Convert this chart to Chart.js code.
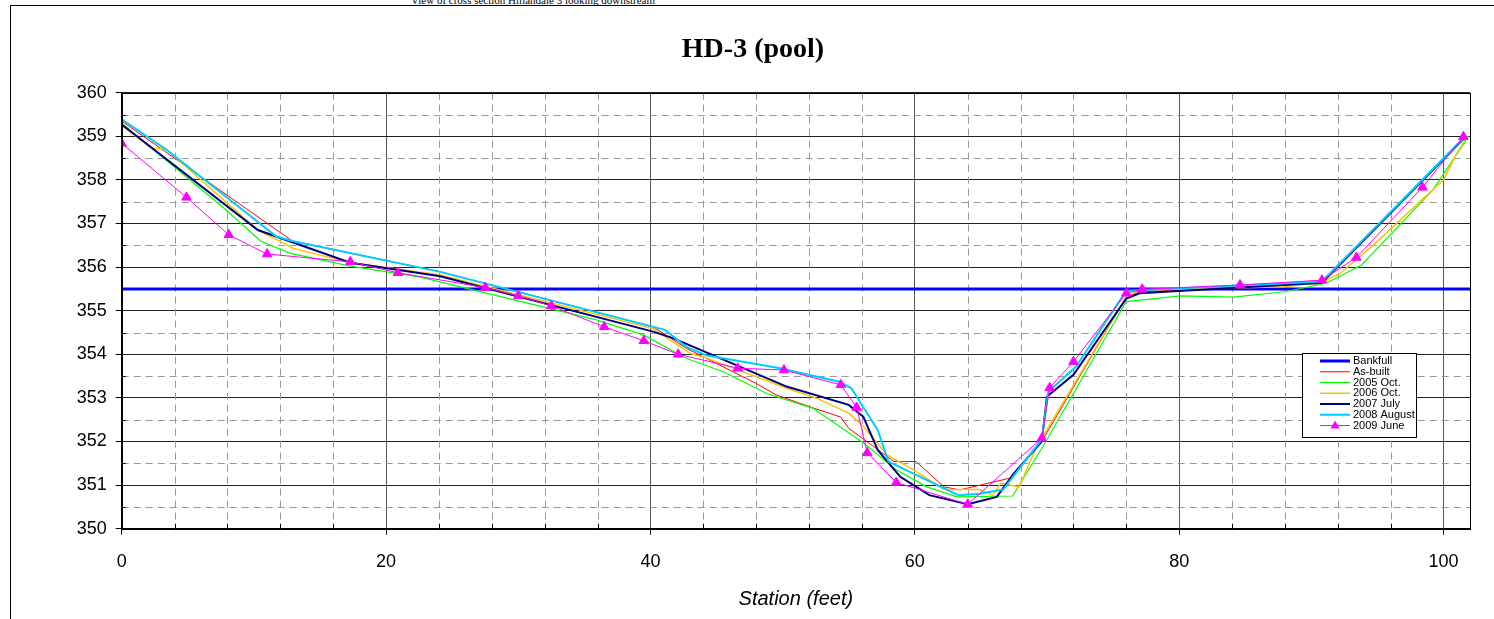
<!DOCTYPE html>
<html>
<head>
<meta charset="utf-8">
<script src="https://cdn.jsdelivr.net/npm/chart.js@4.4.0/dist/chart.umd.min.js"></script>
<style>
  html, body { margin: 0; padding: 0; background: #fff; overflow: hidden; }
  #wrap { position: relative; width: 1494px; height: 619px; overflow: hidden; }
  #frame { position: absolute; left: 10px; top: 5px; width: 1600px; height: 700px; border: 1px solid #000; }
  #caption { position: absolute; left: 411px; top: -6px; font: 11px "Liberation Serif", serif; white-space: nowrap; }
  canvas { position: absolute; left: 0; top: 0; }
</style>
</head>
<body>
<div id="wrap">
  <div id="frame"></div>
  <div id="caption">View of cross section Hillandale 3 looking downstream</div>
  <canvas id="xsChart" width="1494" height="619"></canvas>
</div>
<script>
// station (ft) / elevation (ft) for each survey
const bankfullX = [0, 102];
const bankfullY = [355.5, 355.5];

const asBuiltX = [0, 12.9, 24, 40.2, 42.7, 48.0, 49.5, 52.4, 54.4, 55.0, 57.4, 58.4, 60.1, 62.2, 63.4, 67.2, 69.6, 76.0, 77.0, 90.6, 101.7];
const asBuiltY = [359.35, 356.6, 355.9, 354.63, 354.14, 353.33, 353.07, 352.76, 352.56, 352.3, 351.77, 351.54, 351.54, 350.96, 350.89, 351.16, 352.0, 355.32, 355.43, 355.62, 359.0];

const oct05X = [0, 7.9, 10.5, 12.7, 17.2, 22.6, 35.9, 39.5, 42.7, 45.5, 48.8, 52.3, 56.2, 58.6, 60.9, 63.2, 67.4, 69.7, 76.0, 80.1, 84.1, 88.1, 91.1, 93.8, 99.2, 101.9];
const oct05Y = [359.3, 357.31, 356.6, 356.32, 356.03, 355.77, 354.79, 354.44, 353.91, 353.6, 353.1, 352.76, 351.95, 351.35, 350.96, 350.73, 350.75, 351.89, 355.21, 355.34, 355.31, 355.44, 355.63, 356.05, 357.77, 359.0];

const oct06X = [0, 2.3, 3.3, 10.3, 13.0, 17.0, 24.1, 40.2, 43.0, 44.0, 50.3, 52.6, 55.0, 56.1, 57.9, 59.9, 62.2, 64.9, 65.9, 66.5, 67.9, 69.2, 76.0, 77.0, 87.9, 90.8, 92.2, 94.7, 100.0, 101.0, 101.8];
const oct06Y = [359.25, 358.72, 358.72, 356.85, 356.43, 356.12, 355.82, 354.59, 354.02, 353.94, 353.22, 352.99, 352.65, 352.35, 351.69, 351.35, 350.9, 350.9, 350.77, 351.04, 350.96, 351.87, 355.32, 355.47, 355.55, 355.65, 355.86, 356.51, 358.0, 358.61, 359.0];

const jul07X = [0, 10.3, 17.3, 24.1, 40.2, 41.7, 50.3, 55.0, 56.1, 57.2, 58.9, 59.9, 61.1, 64.0, 66.2, 67.5, 69.6, 70.0, 72.0, 76.0, 77.0, 90.8, 101.7];
const jul07Y = [359.27, 356.85, 356.1, 355.79, 354.52, 354.37, 353.26, 352.84, 352.57, 351.8, 351.19, 351.0, 350.77, 350.56, 350.73, 351.27, 352.0, 353.03, 353.53, 355.28, 355.4, 355.64, 359.0];

const aug08X = [0, 3.4, 11.7, 12.9, 24.1, 41.1, 42.7, 44.2, 49.8, 54.3, 55.2, 57.2, 58.0, 63.3, 64.9, 66.7, 69.6, 70.1, 72.2, 76.0, 77.0, 90.8, 101.7];
const aug08Y = [359.39, 358.69, 356.7, 356.6, 355.89, 354.56, 354.17, 353.98, 353.68, 353.37, 353.22, 352.26, 351.54, 350.77, 350.8, 350.9, 352.05, 353.14, 353.72, 355.46, 355.47, 355.67, 359.02];

const jun09X = [0, 4.9, 8.1, 11.0, 17.3, 20.9, 27.5, 30.0, 32.5, 36.5, 39.5, 42.1, 46.6, 50.1, 54.4, 55.6, 56.4, 58.6, 64.0, 69.6, 70.2, 72.0, 76.0, 77.2, 84.6, 90.8, 93.4, 98.4, 101.5];
const jun09Y = [358.84, 357.6, 356.74, 356.3, 356.12, 355.87, 355.53, 355.34, 355.11, 354.63, 354.31, 354.0, 353.68, 353.64, 353.3, 352.78, 351.74, 351.06, 350.56, 352.07, 353.23, 353.83, 355.4, 355.49, 355.59, 355.7, 356.22, 357.83, 358.99];

const pts = (xs, ys) => xs.map((x, i) => ({ x: x, y: ys[i] }));

Chart.defaults.font.family = "'Liberation Sans', Arial, sans-serif";
Chart.defaults.color = "#000";

// dashed minor grid + little inside ticks, like the excel chart
const minorGrid = {
  id: "minorGrid",
  beforeDatasetsDraw(chart) {
    const { ctx, chartArea: a, scales: { x, y } } = chart;
    ctx.save();
    ctx.lineWidth = 1;
    ctx.strokeStyle = "#999";
    ctx.setLineDash([7, 5]);
    for (let v = 4; v < 102; v += 4) {
      if (v % 20 === 0) continue;
      const px = Math.round(x.getPixelForValue(v)) + 0.5;
      ctx.beginPath(); ctx.moveTo(px, a.top); ctx.lineTo(px, a.bottom); ctx.stroke();
    }
    for (let v = 350.5; v < 360; v += 1) {
      const py = Math.round(y.getPixelForValue(v)) + 0.5;
      ctx.beginPath(); ctx.moveTo(a.left, py); ctx.lineTo(a.right, py); ctx.stroke();
    }
    ctx.setLineDash([]);
    ctx.strokeStyle = "#000";
    for (let v = 4; v < 102; v += 4) {
      if (v % 20 === 0) continue;
      const px = Math.round(x.getPixelForValue(v)) + 0.5;
      ctx.beginPath(); ctx.moveTo(px, a.bottom); ctx.lineTo(px, a.bottom - 5); ctx.stroke();
    }
    for (let v = 350.5; v < 360; v += 1) {
      const py = Math.round(y.getPixelForValue(v)) + 0.5;
      ctx.beginPath(); ctx.moveTo(a.left, py); ctx.lineTo(a.left + 4, py); ctx.stroke();
    }
    ctx.restore();
  },
  afterDatasetsDraw(chart) {
    const { ctx, chartArea: a } = chart;
    ctx.save();
    ctx.strokeStyle = "#000";
    ctx.lineWidth = 1;
    ctx.strokeRect(Math.round(a.left) + 0.5, Math.round(a.top) + 0.5, Math.round(a.right - a.left), Math.round(a.bottom - a.top));
    ctx.restore();
  }
};

// boxed legend sitting inside the plot
const boxLegend = {
  id: "boxLegend",
  afterDraw(chart) {
    const { ctx, chartArea: a } = chart;
    const left = Math.round(a.right) - 168, top = Math.round(a.top) + 260;
    ctx.save();
    ctx.fillStyle = "#fff";
    ctx.fillRect(left, top, 114, 84);
    ctx.strokeStyle = "#000";
    ctx.lineWidth = 1;
    ctx.strokeRect(left + 0.5, top + 0.5, 114, 84);
    ctx.font = "11px 'Liberation Sans', Arial, sans-serif";
    ctx.textBaseline = "middle";
    chart.data.datasets.forEach((ds, i) => {
      const yy = top + 8 + i * 10.75;
      ctx.strokeStyle = ds.borderColor;
      ctx.lineWidth = ds.borderWidth;
      ctx.beginPath(); ctx.moveTo(left + 18, yy); ctx.lineTo(left + 48, yy); ctx.stroke();
      if (ds.pointStyle === "triangle") {
        ctx.fillStyle = ds.backgroundColor;
        ctx.beginPath();
        ctx.moveTo(left + 33, yy - 5);
        ctx.lineTo(left + 37.5, yy + 3);
        ctx.lineTo(left + 28.5, yy + 3);
        ctx.closePath();
        ctx.fill();
      }
      ctx.fillStyle = "#000";
      ctx.fillText(ds.label, left + 51, yy);
    });
    ctx.restore();
  }
};

const ctx = document.getElementById("xsChart").getContext("2d");

const data = {
  datasets: [
    { label: "Bankfull", data: pts(bankfullX, bankfullY), borderColor: "#0000FF", borderWidth: 3, pointRadius: 0, order: 6 },
    { label: "As-built", data: pts(asBuiltX, asBuiltY), borderColor: "#FF0000", borderWidth: 1, pointRadius: 0, order: 5 },
    { label: "2005 Oct.", data: pts(oct05X, oct05Y), borderColor: "#00FF00", borderWidth: 1.2, pointRadius: 0, order: 4 },
    { label: "2006 Oct.", data: pts(oct06X, oct06Y), borderColor: "#FFC000", borderWidth: 1.5, pointRadius: 0, order: 3 },
    { label: "2007 July", data: pts(jul07X, jul07Y), borderColor: "#000080", borderWidth: 2, pointRadius: 0, order: 2 },
    { label: "2008 August", data: pts(aug08X, aug08Y), borderColor: "#00CCFF", borderWidth: 2, pointRadius: 0, order: 1 },
    { label: "2009 June", data: pts(jun09X, jun09Y), borderColor: "#FF00FF", backgroundColor: "#FF00FF", borderWidth: 1,
      pointStyle: "triangle", pointRadius: 5.5, pointBorderWidth: 1, order: 0 },
  ],
};

const config = {
  type: "line",
  data: data,
  options: {
    responsive: false,
    animation: false,
    devicePixelRatio: 1,
    layout: { padding: { left: 36, right: 24, top: 0, bottom: 0 } },
    plugins: {
      legend: { display: false },
      tooltip: { enabled: false },
      title: {
        display: true,
        text: "HD-3 (pool)",
        color: "#000",
        font: { family: "'Liberation Serif', 'Times New Roman', serif", size: 28, weight: "bold" },
        padding: { top: 33.2, bottom: 25.9 },
      },
    },
    scales: {
      x: {
        type: "linear",
        min: 0,
        max: 102,
        ticks: { stepSize: 20, includeBounds: false, maxRotation: 0, padding: 17, font: { size: 18 } },
        grid: { color: "#555", tickColor: "#000", tickLength: 6 },
        border: { color: "#000", width: 1 },
        title: { display: true, text: "Station (feet)", font: { size: 20, style: "italic" }, padding: { top: 0, bottom: 8 } },
        afterFit(scale) { scale.height = 90.3; },
      },
      y: {
        min: 350,
        max: 360,
        ticks: { stepSize: 1, padding: 9, font: { size: 18 } },
        grid: { color: "#222", tickColor: "#000", tickLength: 6 },
        border: { color: "#000", width: 1 },
        afterFit(scale) { scale.width = 85.7; },
      },
    },
  },
  plugins: [minorGrid, boxLegend],
};

const myChart = new Chart(ctx, config);
</script>
</body>
</html>
